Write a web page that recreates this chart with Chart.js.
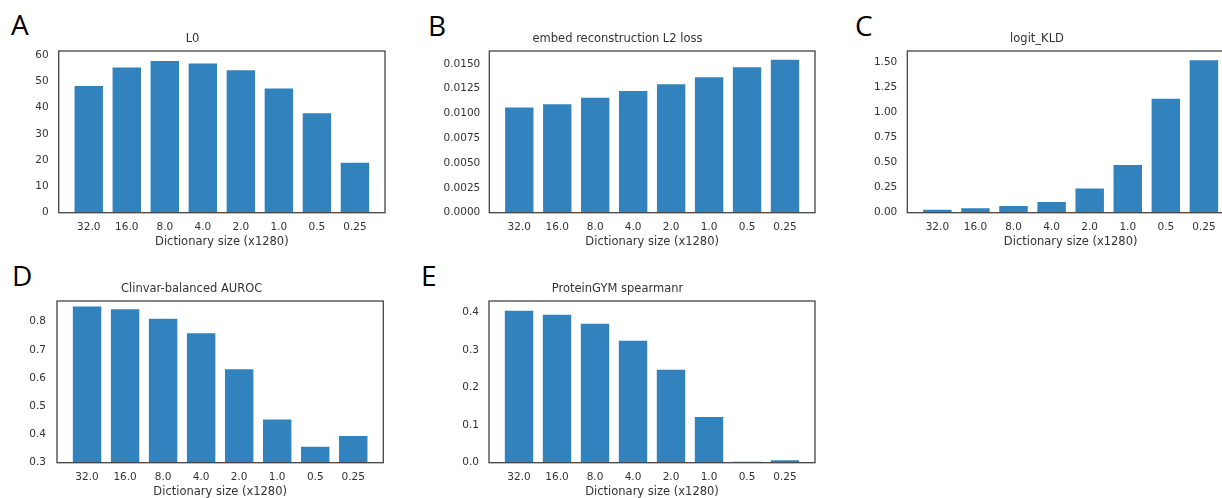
<!DOCTYPE html>
<html lang="en">
<head>
  <meta charset="UTF-8" />
  <title>Dictionary size sweep</title>
  <style>
    body { margin: 0; background: #fff; width: 1222px; height: 498px; overflow: hidden; position: relative; font-family: 'DejaVu Sans', sans-serif; }
    .panel { position: absolute; width: 400px; height: 235px; }
    .letter { position: absolute; font: 28px 'Open Sans', sans-serif; line-height: 28px; color: #000; }
  </style>
  <script src="https://cdn.jsdelivr.net/npm/chart.js"></script>
</head>
<body>
  <div class="letter" style="left:11px; top:10px;">A</div>
  <div class="letter" style="left:428px; top:11px;">B</div>
  <div class="letter" style="left:855px; top:11px;">C</div>
  <div class="letter" style="left:12px; top:261px;">D</div>
  <div class="letter" style="left:421px; top:261px;">E</div>

  <div class="panel" style="left:0px; top:20px;"><canvas id="chartA"></canvas></div>
  <div class="panel" style="left:420px; top:20px;"><canvas id="chartB"></canvas></div>
  <div class="panel" style="left:840px; top:20px;"><canvas id="chartC"></canvas></div>
  <div class="panel" style="left:0px; top:270px;"><canvas id="chartD"></canvas></div>
  <div class="panel" style="left:420px; top:270px;"><canvas id="chartE"></canvas></div>

  <script>
    // values
    const dictSizes = ['32.0', '16.0', '8.0', '4.0', '2.0', '1.0', '0.5', '0.25'];
    const l0 = [48.6, 55.6, 58.1, 57.1, 54.6, 47.6, 38.2, 19.4];
    const l2Loss = [0.01070, 0.01104, 0.01168, 0.01236, 0.01304, 0.01375, 0.01477, 0.01551];
    const logitKld = [0.040, 0.054, 0.077, 0.117, 0.250, 0.484, 1.144, 1.527];
    const clinvarAuroc = [0.857, 0.847, 0.814, 0.762, 0.635, 0.457, 0.360, 0.398];
    const proteinGym = [0.407, 0.396, 0.372, 0.327, 0.250, 0.124, 0.0045, 0.009];
    const xTitle = 'Dictionary size (x1280)';

    const barColor = '#3182bd';
    const textColor = '#333';

    // draws the closed box round the plot area, like matplotlib spines
    const frame = {
      id: 'frame',
      afterDatasetsDraw(chart) {
        const a = chart.chartArea, c = chart.ctx;
        c.save();
        c.strokeStyle = '#444';
        c.lineWidth = 1.3;
        c.strokeRect(a.left, a.top, a.right - a.left, a.bottom - a.top);
        c.restore();
      }
    };

    function makePanel(id, title, values, yMin, yMax, step, digits, yWidth, padRight, yPad) {
      new Chart(document.getElementById(id), {
        type: 'bar',
        data: {
          datasets: [{
            data: values.map((v, i) => ({ x: i, y: v })),
            backgroundColor: barColor,
            borderColor: 'rgba(255,255,255,0.5)',
            borderWidth: 1,
            borderSkipped: 'bottom',
            barPercentage: 0.8,
            categoryPercentage: 1.0
          }]
        },
        options: {
          responsive: true,
          maintainAspectRatio: false,
          animation: false,
          layout: { padding: { left: 0, right: padRight, top: 12.4, bottom: 0 } },
          plugins: {
            legend: { display: false },
            tooltip: { enabled: false },
            title: {
              display: true, text: title, color: textColor,
              font: { family: 'DejaVu Sans', size: 11.5, weight: 'normal' },
              padding: { top: 0, bottom: 4.8 }
            }
          },
          scales: {
            x: {
              type: 'linear', min: -0.79, max: 7.79, offset: false,
              grid: { display: false, offset: false, drawTicks: false },
              border: { display: false },
              afterBuildTicks: s => { s.ticks = dictSizes.map((_, i) => ({ value: i })); },
              ticks: {
                callback: v => dictSizes[v], color: textColor, padding: 8, maxRotation: 0, autoSkip: false,
                font: { family: 'DejaVu Sans', size: 10.5 }
              },
              title: {
                display: true, text: xTitle, color: textColor,
                font: { family: 'DejaVu Sans', size: 11.5 },
                padding: { top: 0, bottom: 6 }
              },
              afterFit: s => { s.height = 42.3; }
            },
            y: {
              min: yMin, max: yMax,
              grid: { display: false, drawTicks: false },
              border: { display: false },
              ticks: {
                stepSize: step, includeBounds: false, color: textColor, padding: yPad,
                font: { family: 'DejaVu Sans', size: 10.5 },
                callback: v => v.toFixed(digits)
              },
              afterFit: s => { s.width = yWidth; }
            }
          }
        },
        plugins: [frame]
      });
    }

    makePanel('chartA', 'L0', l0, 0, 61.5, 10, 0, 58.7, 15, 10);
    makePanel('chartB', 'embed reconstruction L2 loss', l2Loss, 0, 0.0163, 0.0025, 4, 69.3, 5, 9);
    makePanel('chartC', 'logit_KLD', logitKld, 0, 1.61, 0.25, 2, 67.3, 6, 10);
    makePanel('chartD', 'Clinvar-balanced AUROC', clinvarAuroc, 0.3, 0.873, 0.1, 1, 57, 16.7, 11);
    makePanel('chartE', 'ProteinGYM spearmanr', proteinGym, 0, 0.43, 0.1, 1, 69, 5, 10);
  </script>
</body>
</html>
